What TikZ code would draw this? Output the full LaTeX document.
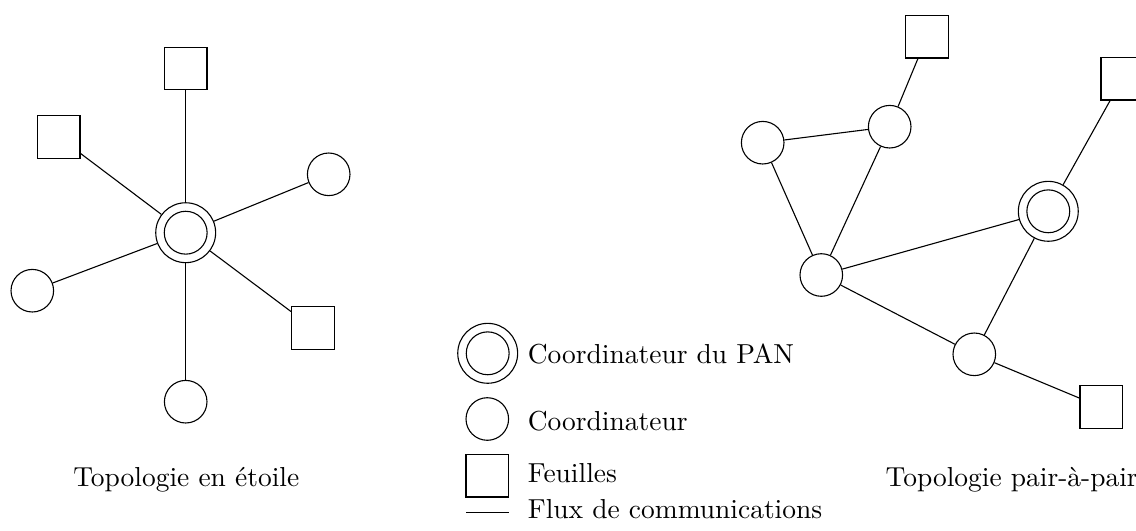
\documentclass[tikz,border=0pt]{standalone}
\usepackage{amsmath}
\usepackage{amssymb}
\usepackage{tikz}
\usetikzlibrary{positioning}

\tikzset{
  coord/.style={circle, draw, inner sep=0pt, minimum size=15.5pt},
  pancoord/.style={circle, draw, inner sep=0pt, minimum size=21.8pt,
    path picture={\draw (path picture bounding box.center) circle (7.8pt);}},
  leaf/.style={rectangle, draw, inner sep=0pt, minimum size=15.5pt},
  legtext/.style={anchor=base west, inner sep=0pt}
}

\begin{document}
\begin{tikzpicture}[x=0.364pt, y=-0.364pt]
        \useasboundingbox (0,0) rectangle (1136,530);

        \node[pancoord] (c)  at (185.7,232.7) {};
        \node[leaf]     (s1) at (185.7,68.5)  {};
        \node[leaf]     (s2) at (58.7,137)    {};
        \node[coord]    (s3) at (328.7,174.3) {};
        \node[coord]    (s4) at (32.3,290.7)  {};
        \node[leaf]     (s5) at (312.8,327.8) {};
        \node[coord]    (s6) at (185.7,401.7) {};

        \draw (c) -- (s1);
        \draw (c) -- (s2);
        \draw (c) -- (s3);
        \draw (c) -- (s4);
        \draw (c) -- (s5);
        \draw (c) -- (s6);

        \node[coord]    (p1) at (762.7,142.7)  {};
        \node[coord]    (p2) at (889.7,126.7)  {};
        \node[leaf]     (p3) at (927,36.7)     {};
        \node[pancoord] (p4) at (1048.3,211.3) {};
        \node[leaf]     (p5) at (1122.3,78.7)  {};
        \node[coord]    (p6) at (821.3,275)    {};
        \node[coord]    (p7) at (974.3,354.3)  {};
        \node[leaf]     (p8) at (1101.3,407.2) {};

        \draw (p1) -- (p2);
        \draw (p2) -- (p3);
        \draw (p1) -- (p6);
        \draw (p2) -- (p6);
        \draw (p6) -- (p4);
        \draw (p6) -- (p7);
        \draw (p4) -- (p7);
        \draw (p4) -- (p5);
        \draw (p7) -- (p8);

        \node[pancoord] (l1) at (487.7,353.3) {};
        \node[coord]    (l2) at (487.3,419)   {};
        \node[leaf]     (l3) at (487.3,475.7) {};
        \coordinate     (l4) at (466,512.3);
        \coordinate     (l5) at (508.7,512.3);
        \draw (l4) -- (l5);

        \node[legtext] (t1) at (527.3,363.3) {Coordinateur du PAN};
        \node[legtext] (t2) at (527.3,430)   {Coordinateur};
        \node[legtext] (t3) at (527.3,482.3) {Feuilles};
        \node[legtext] (t4) at (527.3,518.3) {Flux de communications};

        \node[anchor=base, inner sep=0pt] (ts) at (186.3,486.7)  {Topologie en étoile};
        \node[anchor=base, inner sep=0pt] (tp) at (1011.7,486.7) {Topologie pair-à-pair};
    \end{tikzpicture}
\end{document}
